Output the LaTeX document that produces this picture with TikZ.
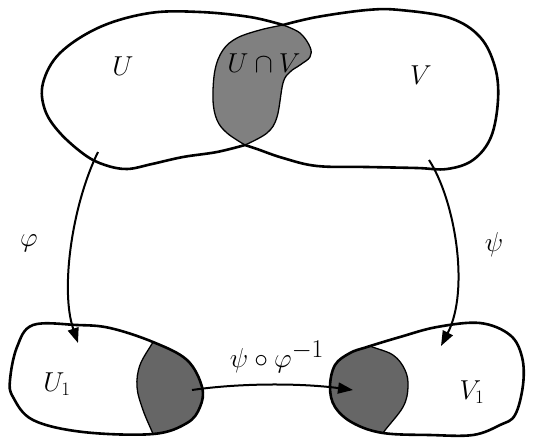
\documentclass[tikz,border=0pt]{standalone}
\usetikzlibrary{arrows.meta}
\begin{document}
\begin{tikzpicture}[x=1pt,y=-1pt,
  outline/.style={line width=2.6pt, line join=round},
  inner/.style={line width=1.3pt},
  greyA/.style={fill=black!50},
  greyB/.style={fill=black!60},
  maparrow/.style={line width=2pt, -{Triangle[length=15pt,width=11pt]}},
  lbl/.style={font=\fontsize{25}{30}\selectfont, inner sep=0pt, scale=1.1}]
\useasboundingbox (0,0) rectangle (535,445);

% ---- top: U and V with intersection
\fill[greyA] plot[smooth, tension=0.6] coordinates {(283,25) (300,33) (310,47) (310,57) (300,65) (290,72) (283,83) (277,117) (267,133) (245,145)}
  -- plot[smooth, tension=0.6] coordinates {(245,145) (227,133) (217,120) (213,100) (215,70) (223,50) (237,38) (260,30) (283,25)} -- cycle;
\draw[inner] plot[smooth, tension=0.6] coordinates {(283,25) (300,33) (310,47) (310,57) (300,65) (290,72) (283,83) (277,117) (267,133) (245,145)};
\draw[inner] plot[smooth, tension=0.6] coordinates {(245,145) (227,133) (217,120) (213,100) (215,70) (223,50) (237,38) (260,30) (283,25)};
% U outer
\draw[outline] plot[smooth, tension=0.6] coordinates {(283,25) (250,17) (200,12) (150,13) (100,27) (60,53) (43,83) (45,110) (60,133) (85,155) (105,165) (127,169) (152,164) (183,157) (217,152) (245,145)};
% V outer
\draw[outline] plot[smooth, tension=0.6] coordinates {(283,25) (317,17) (367,10) (400,10) (450,18) (480,37) (495,67) (498,100) (491,137) (473,160) (447,169) (417,168) (367,167) (317,166) (283,158) (257,149) (245,145)};

\node[lbl] (U) at (123,66) {$U$};
\node[lbl] (UV) at (264,63) {$U\cap V$};
\node[lbl] (V) at (421,75) {$V$};

% ---- bottom left: U1
\begin{scope}
  \clip plot[smooth cycle, tension=0.6] coordinates {(33,325) (77,325) (110,328) (153,342) (187,360) (202,387) (200,407) (187,423) (153,434) (83,432) (33,420) (13,397) (10,380) (17,347)};
  \fill[greyB] plot[smooth, tension=0.6] coordinates {(160,328) (153,342) (140,365) (137,387) (143,410) (153,434) (157,446)} -- (240,446) -- (240,328) -- cycle;
  \draw[inner] plot[smooth, tension=0.6] coordinates {(160,328) (153,342) (140,365) (137,387) (143,410) (153,434) (157,446)};
\end{scope}
\draw[outline] plot[smooth cycle, tension=0.6] coordinates {(33,325) (77,325) (110,328) (153,342) (187,360) (202,387) (200,407) (187,423) (153,434) (83,432) (33,420) (13,397) (10,380) (17,347)};

% ---- bottom right: V1
\begin{scope}
  \clip plot[smooth cycle, tension=0.6] coordinates {(367,347) (400,337) (437,327) (480,323) (510,335) (522,357) (523,385) (515,415) (500,425) (473,435) (430,435) (383,433) (353,423) (335,407) (330,387) (335,365) (350,353)};
  \fill[greyB] plot[smooth, tension=0.6] coordinates {(355,338) (370,346) (393,355) (405,370) (408,387) (403,407) (383,433) (377,446)} -- (310,446) -- (310,338) -- cycle;
  \draw[inner] plot[smooth, tension=0.6] coordinates {(355,338) (370,346) (393,355) (405,370) (408,387) (403,407) (383,433) (377,446)};
\end{scope}
\draw[outline] plot[smooth cycle, tension=0.6] coordinates {(367,347) (400,337) (437,327) (480,323) (510,335) (522,357) (523,385) (515,415) (500,425) (473,435) (430,435) (383,433) (353,423) (335,407) (330,387) (335,365) (350,353)};

\node[lbl] (U1) at (57,384) {$U_1$};
\node[lbl] (V1) at (472,392) {$V_1$};

% ---- arrows
\coordinate (phiS) at (98,152);
\coordinate (phiE) at (78,343);
\coordinate (psiS) at (429,160);
\coordinate (psiE) at (441,346);
\coordinate (trS) at (192,390);
\coordinate (trE) at (353,390);

\draw[maparrow] (phiS) .. controls (72,205) and (60,290) .. (phiE);
\draw[maparrow] (psiS) .. controls (455,200) and (470,290) .. (psiE);
\draw[maparrow] (trS) .. controls (240,383) and (300,383) .. (trE);

\node[lbl] (phi) at (29,243) {$\varphi$};
\node[lbl] (psi) at (494,245) {$\psi$};
\node[lbl] (tr) at (277,357) {$\psi\circ\varphi^{\scalebox{1.35}{$\scriptstyle -1$}}$};
\end{tikzpicture}
\end{document}
